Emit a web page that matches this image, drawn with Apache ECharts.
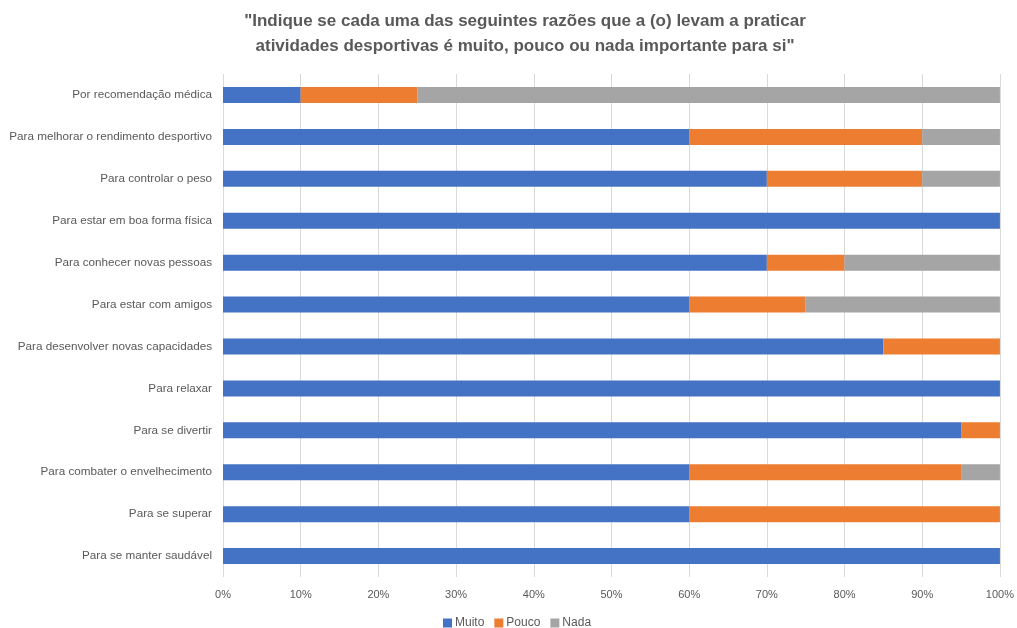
<!DOCTYPE html>
<html>
<head>
<meta charset="utf-8">
<script src="https://cdn.jsdelivr.net/npm/echarts@6/dist/echarts.min.js"></script>
<style>
  html, body { margin: 0; padding: 0; background: #fff; }
  #chart { width: 1017px; height: 628px; }
</style>
</head>
<body>
<div id="chart"></div>
<script>
// Reasons for practising sport, share of answers (%)
const categories = [
  'Por recomendação médica',
  'Para melhorar o rendimento desportivo',
  'Para controlar o peso',
  'Para estar em boa forma física',
  'Para conhecer novas pessoas',
  'Para estar com amigos',
  'Para desenvolver novas capacidades',
  'Para relaxar',
  'Para se divertir',
  'Para combater o envelhecimento',
  'Para se superar',
  'Para se manter saudável'
];
const muito = [10, 60, 70, 100, 70, 60, 85, 100, 95, 60, 60, 100];
const pouco = [15, 30, 20, 0, 10, 15, 15, 0, 5, 35, 40, 0];
const nada  = [75, 10, 10, 0, 20, 25, 0, 0, 0, 5, 0, 0];
const seriesNames = ['Muito', 'Pouco', 'Nada'];
const colors = ['#4472C4', '#ED7D31', '#A5A5A5'];

const chart = echarts.init(document.getElementById('chart'));
const fontFamily = '"Liberation Sans", "DejaVu Sans", sans-serif';

chart.setOption({
  animation: false,
  color: colors,
  title: {
    text: '"Indique se cada uma das seguintes razões que a (o) levam a praticar\natividades desportivas é muito, pouco ou nada importante para si"',
    left: 520,
    textAlign: 'center',
    top: 4,
    textStyle: {
      fontFamily: fontFamily,
      fontSize: 17,
      fontWeight: 'bold',
      color: '#595959',
      lineHeight: 25
    }
  },
  legend: {
    top: 612,
    left: 438,
    itemWidth: 9,
    itemHeight: 9,
    itemGap: 10,
    icon: 'rect',
    textStyle: { fontFamily: fontFamily, fontSize: 12, color: '#595959', padding: [0, 0, 0, -2] },
    data: seriesNames
  },
  grid: { left: 223, right: 16, top: 74, bottom: 51, containLabel: false },
  xAxis: {
    type: 'value',
    min: 0,
    max: 100,
    interval: 10,
    axisLabel: {
      formatter: '{value}%',
      color: '#595959',
      fontFamily: fontFamily,
      fontSize: 11,
      margin: 12
    },
    axisLine: { show: false },
    axisTick: { show: false },
    splitLine: { lineStyle: { color: '#D9D9D9', width: 1 } }
  },
  yAxis: {
    type: 'category',
    inverse: true,
    data: categories,
    axisLabel: {
      color: '#595959',
      fontFamily: fontFamily,
      fontSize: 11.7,
      margin: 11
    },
    axisLine: { show: false },
    axisTick: { show: false }
  },
  series: [muito, pouco, nada].map((d, i) => ({
    name: seriesNames[i],
    type: 'bar',
    stack: 'total',
    barWidth: 16,
    data: d,
    itemStyle: { color: colors[i] }
  }))
});
</script>
</body>
</html>
